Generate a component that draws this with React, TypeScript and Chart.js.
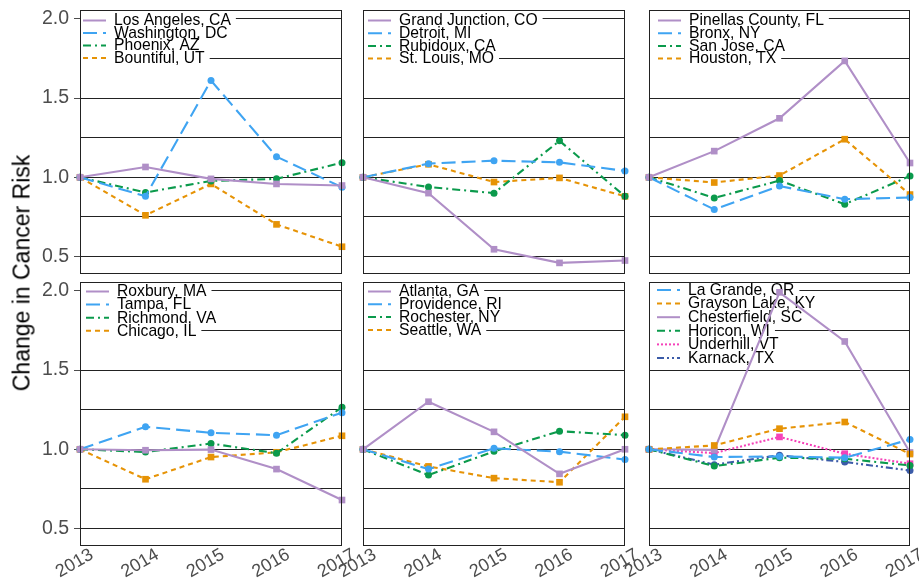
import React, { useEffect, useRef } from 'react';
import { Chart, registerables } from 'chart.js';
Chart.register(...registerables);

const FONT = '"Liberation Sans", Arial, Helvetica, sans-serif';
Chart.defaults.font.family = FONT;

// ---------- data ----------
const years = ['2013', '2014', '2015', '2016', '2017'];
const yGridValues = [0.5, 0.75, 1, 1.25, 1.5, 1.75, 2];
const yTickLabels = ['0.5', '1.0', '1.5', '2.0'];
const yAxisTitle = 'Change in Cancer Risk';

// panel 1
const losAngeles = [1.0, 1.065, 0.99, 0.958, 0.948];
const washington = [1.0, 0.88, 1.61, 1.13, 0.937];
const phoenix = [1.0, 0.904, 0.977, 0.99, 1.092];
const bountiful = [1.0, 0.76, 0.958, 0.703, 0.562];
// panel 2
const grandJunction = [1.0, 0.9, 0.546, 0.46, 0.475];
const detroit = [1.0, 1.086, 1.105, 1.094, 1.04];
const rubidoux = [1.0, 0.939, 0.9, 1.23, 0.88];
const stLouis = [1.0, 1.082, 0.97, 0.996, 0.88];
// panel 3
const pinellas = [1.0, 1.165, 1.372, 1.734, 1.09];
const bronx = [1.0, 0.797, 0.945, 0.862, 0.872];
const sanJose = [1.0, 0.87, 0.979, 0.83, 1.008];
const houston = [1.0, 0.967, 1.011, 1.24, 0.891];
// panel 4
const roxbury = [1.0, 0.994, 0.998, 0.875, 0.68];
const tampa = [1.0, 1.142, 1.104, 1.089, 1.231];
const richmond = [1.0, 0.983, 1.036, 0.975, 1.265];
const chicago = [1.0, 0.811, 0.951, 0.981, 1.085];
// panel 5
const atlanta = [1.0, 1.3, 1.11, 0.845, 1.0];
const providence = [1.0, 0.875, 1.006, 0.985, 0.935];
const rochester = [1.0, 0.837, 0.987, 1.114, 1.089];
const seattle = [1.0, 0.892, 0.818, 0.792, 1.205];
// panel 6
const laGrande = [1.0, 0.951, 0.955, 0.947, 1.062];
const graysonLake = [1.0, 1.024, 1.13, 1.172, 0.97];
const chesterfield = [1.0, 0.996, 1.99, 1.68, 0.98];
const horicon = [1.0, 0.894, 0.947, 0.94, 0.898];
const underhill = [1.0, 0.976, 1.078, 0.972, 0.909];
const karnack = [1.0, 0.903, 0.962, 0.92, 0.866];

// ---------- styles ----------
type StyleKey = 'purple' | 'blue' | 'green' | 'orange' | 'pink' | 'navy';
const STYLES: Record<StyleKey, { color: string; dash: number[]; point: string }> = {
  purple: { color: '#B08FC7', dash: [], point: 'rect' },
  blue: { color: '#3FA4F2', dash: [14, 6], point: 'circle' },
  green: { color: '#0B9A4C', dash: [8, 4, 2, 4], point: 'circle' },
  orange: { color: '#E69306', dash: [5, 4], point: 'rect' },
  pink: { color: '#F542B9', dash: [2, 2], point: 'rect' },
  navy: { color: '#3B5BA8', dash: [7, 3, 2, 3, 2, 3], point: 'circle' },
};

type Series = [string, number[], StyleKey];
interface PanelCfg {
  row: number;
  col: number;
  series: Series[];
  legendX: number;
  legendY: number;
  rowGap: number;
}

const panels: PanelCfg[] = [
  { row: 0, col: 0, legendX: 3, legendY: 10.5, rowGap: 12.5, series: [
    ['Los Angeles, CA', losAngeles, 'purple'],
    ['Washington, DC', washington, 'blue'],
    ['Phoenix, AZ', phoenix, 'green'],
    ['Bountiful, UT', bountiful, 'orange'],
  ] },
  { row: 0, col: 1, legendX: 5, legendY: 10.5, rowGap: 12.7, series: [
    ['Grand Junction, CO', grandJunction, 'purple'],
    ['Detroit, MI', detroit, 'blue'],
    ['Rubidoux, CA', rubidoux, 'green'],
    ['St. Louis, MO', stLouis, 'orange'],
  ] },
  { row: 0, col: 2, legendX: 9, legendY: 10.5, rowGap: 12.7, series: [
    ['Pinellas County, FL', pinellas, 'purple'],
    ['Bronx, NY', bronx, 'blue'],
    ['San Jose, CA', sanJose, 'green'],
    ['Houston, TX', houston, 'orange'],
  ] },
  { row: 1, col: 0, legendX: 6, legendY: 9.5, rowGap: 13.1, series: [
    ['Roxbury, MA', roxbury, 'purple'],
    ['Tampa, FL', tampa, 'blue'],
    ['Richmond, VA', richmond, 'green'],
    ['Chicago, IL', chicago, 'orange'],
  ] },
  { row: 1, col: 1, legendX: 5, legendY: 9.5, rowGap: 12.8, series: [
    ['Atlanta, GA', atlanta, 'purple'],
    ['Providence, RI', providence, 'blue'],
    ['Rochester, NY', rochester, 'green'],
    ['Seattle, WA', seattle, 'orange'],
  ] },
  { row: 1, col: 2, legendX: 8, legendY: 8, rowGap: 13.6, series: [
    ['La Grande, OR', laGrande, 'blue'],
    ['Grayson Lake, KY', graysonLake, 'orange'],
    ['Chesterfield, SC', chesterfield, 'purple'],
    ['Horicon, WI', horicon, 'green'],
    ['Underhill, VT', underhill, 'pink'],
    ['Karnack, TX', karnack, 'navy'],
  ] },
];

// ---------- layout ----------
const W = 919;
const H = 582;
const PANEL_X = [[80, 342], [363, 625], [649, 910]];
const PANEL_Y = [[10, 274], [282, 546]];
const Y_MIN = 0.39;
const Y_MAX = 2.055;
const LEGEND_FONT = 15.7;
const Y_AXIS_W = 60;
const X_AXIS_H = 36;

function labelFor(v: number): string {
  const l = yTickLabels.find((t) => Math.abs(parseFloat(t) - v) < 1e-6);
  return l ?? '';
}

function makeDecor(cfg: PanelCfg) {
  return {
    id: 'panelDecor' + cfg.row + cfg.col,
    beforeDatasetsDraw(chart: any) {
      const { ctx, chartArea: a } = chart;
      ctx.save();
      ctx.font = `${LEGEND_FONT}px ${FONT}`;
      ctx.textBaseline = 'middle';
      ctx.textAlign = 'left';
      const x0 = a.left + cfg.legendX;
      const tx = x0 + 31;
      cfg.series.forEach((s, i) => {
        const y = a.top + cfg.legendY + i * cfg.rowGap;
        const w = ctx.measureText(s[0]).width;
        ctx.fillStyle = '#ffffff';
        ctx.fillRect(a.left + 1, y - 6.5, tx + w + 5 - (a.left + 1), 13);
      });
      cfg.series.forEach((s, i) => {
        const st = STYLES[s[2]];
        const y = a.top + cfg.legendY + i * cfg.rowGap;
        ctx.beginPath();
        ctx.setLineDash(st.dash);
        ctx.lineWidth = 2;
        ctx.strokeStyle = st.color;
        ctx.moveTo(x0, y);
        ctx.lineTo(x0 + 23, y);
        ctx.stroke();
        ctx.setLineDash([]);
        ctx.fillStyle = '#000000';
        ctx.fillText(s[0], tx, y + 0.5);
      });
      ctx.restore();
    },
    afterDraw(chart: any) {
      const { ctx, chartArea: a } = chart;
      ctx.save();
      ctx.strokeStyle = '#222222';
      ctx.lineWidth = 1;
      ctx.setLineDash([]);
      ctx.strokeRect(Math.round(a.left) + 0.5, Math.round(a.top) + 0.5, Math.round(a.right - a.left) - 1, Math.round(a.bottom - a.top) - 1);
      ctx.restore();
    },
  };
}

function Panel({ cfg }: { cfg: PanelCfg }) {
  const ref = useRef<HTMLCanvasElement>(null);
  useEffect(() => {
    if (!ref.current) return;
    const [x0, x1] = PANEL_X[cfg.col];
    const [y0, y1] = PANEL_Y[cfg.row];
    const isLeft = cfg.col === 0;
    const isBottom = cfg.row === 1;
    const yW = isLeft ? Y_AXIS_W : 0;
    const xH = isBottom ? X_AXIS_H : 0;
    const datasets = cfg.series.map(([label, data, key]) => {
      const st = STYLES[key];
      return {
        label,
        data,
        borderColor: st.color,
        backgroundColor: st.color,
        borderWidth: 2.1,
        borderDash: st.dash,
        pointStyle: st.point,
        pointRadius: st.point === 'rect' ? 4.7 : 3.5,
        pointBackgroundColor: st.color,
        pointBorderWidth: 0,
        tension: 0,
        clip: false as any,
      };
    });
    const chart = new Chart(ref.current, {
      type: 'line',
      data: { labels: years, datasets },
      options: {
        animation: false,
        responsive: false,
        devicePixelRatio: 1,
        events: [],
        layout: { padding: { left: x0 - yW, right: W - x1, top: y0, bottom: H - y1 - xH } },
        plugins: { legend: { display: false }, tooltip: { enabled: false } },
        scales: {
          x: {
            type: 'category',
            offset: false,
            grid: { display: false, drawTicks: false },
            border: { display: false },
            ticks: {
              display: isBottom,
              minRotation: 30,
              maxRotation: 30,
              autoSkip: false,
              padding: -2,
              labelOffset: 12,
              color: '#4D4D4D',
              font: { size: 18, family: FONT },
            },
            afterFit: (s: any) => {
              s.height = xH;
              s.paddingLeft = 0;
              s.paddingRight = 0;
            },
          },
          y: {
            type: 'linear',
            min: Y_MIN,
            max: Y_MAX,
            afterBuildTicks: (s: any) => {
              s.ticks = yGridValues.map((v) => ({ value: v }));
            },
            afterFit: (s: any) => {
              s.width = yW;
              s.paddingTop = 0;
              s.paddingBottom = 0;
            },
            grid: {
              color: '#222222',
              lineWidth: 1,
              drawTicks: isLeft,
              tickLength: 6,
              tickWidth: 1,
              tickColor: (ctx: any) => (labelFor(ctx.tick ? ctx.tick.value : 0) ? '#4D4D4D' : 'rgba(0,0,0,0)'),
            },
            border: { display: false },
            ticks: {
              display: isLeft,
              padding: 5,
              color: '#4D4D4D',
              font: { size: 19.5, family: FONT },
              autoSkip: false,
              callback: (v: any) => labelFor(Number(v)),
            },
          },
        },
      } as any,
      plugins: [makeDecor(cfg)],
    });
    return () => chart.destroy();
  }, [cfg]);
  return <canvas ref={ref} width={W} height={H} style={{ position: 'absolute', left: 0, top: 0 }} />;
}

export default function App() {
  return (
    <div style={{ position: 'absolute', left: 0, top: 0, width: W, height: H, background: '#ffffff', overflow: 'hidden' }}>
      {panels.map((p, i) => (
        <Panel key={i} cfg={p} />
      ))}
      <div
        style={{
          position: 'absolute',
          left: 22,
          top: 273,
          transform: 'translate(-50%, -50%) rotate(-90deg)',
          fontFamily: FONT,
          fontSize: 23,
          color: '#000000',
          whiteSpace: 'nowrap',
          lineHeight: 1,
        }}
      >
        {yAxisTitle}
      </div>
    </div>
  );
}
